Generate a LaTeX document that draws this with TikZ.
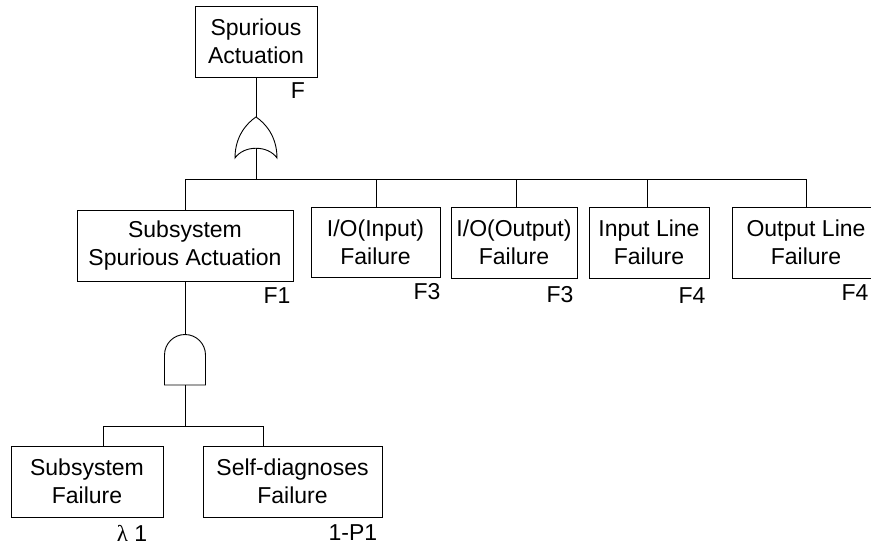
\documentclass[tikz,border=0pt]{standalone}
\usepackage{fontspec}
\setmainfont{Liberation Sans}
\newfontfamily\greekfont{Liberation Serif}
\begin{document}
\begin{tikzpicture}[x=1pt,y=-1pt,
  txt/.style={font=\fontsize{23}{28}\selectfont},
  evt/.style={txt, draw, line width=0.9pt, align=center, inner sep=0pt},
  lbl/.style={txt, inner sep=0pt},
  wire/.style={line width=0.9pt},
  gatestyle/.style={line width=0.9pt}]
\useasboundingbox (0,0) rectangle (871,543);
\clip (0,0) rectangle (871,543);

% top event
\node[evt, minimum width=122pt, minimum height=71pt] (top) at (256,41.5) {Spurious\\Actuation};
\node[lbl] (topF) at (298,91) {F};

% OR gate
\coordinate (orin) at (256,117);
\coordinate (orout) at (256,148);
\draw[gatestyle] (235,158) .. controls (235,136) and (247,123) .. (orin)
  .. controls (265,123) and (277,136) .. (277,158)
  .. controls (268,145) and (244,145) .. cycle;
\draw[wire] (top.south) -- (orin);

% first level events
\node[evt, minimum width=216pt, minimum height=71pt] (f1) at (185,245.5) {Subsystem\\Spurious Actuation};
\node[evt, minimum width=129pt, minimum height=70pt] (ioin) at (375.5,242) {I/O(Input)\\Failure};
\node[evt, minimum width=126pt, minimum height=71pt] (ioout) at (514,242.5) {I/O(Output)\\Failure};
\node[evt, minimum width=120pt, minimum height=71pt] (inl) at (649,242.5) {Input Line\\Failure};
\node[evt, minimum width=148pt, minimum height=71pt] (outl) at (806,242.5) {Output Line\\Failure};

\node[lbl] (f1l) at (277,296) {F1};
\node[lbl] (ioinl) at (427,292) {F3};
\node[lbl] (ioutl) at (560,295) {F3};
\node[lbl] (inll) at (692,296) {F4};
\node[lbl] (outll) at (855,293) {F4};

% OR gate fan-out
\coordinate (bus) at (256,179);
\draw[wire] (orout) -- (bus);
\draw[wire] (f1.north) -- (f1.north |- bus) -- (outl.north |- bus) -- (outl.north);
\draw[wire] ([xshift=0.5pt]ioin.north) -- ([xshift=0.5pt]ioin.north |- bus);
\draw[wire] ([xshift=2pt]ioout.north) -- ([xshift=2pt]ioout.north |- bus);
\draw[wire] ([xshift=-2pt]inl.north) -- ([xshift=-2pt]inl.north |- bus);

% AND gate
\coordinate (andtop) at (185,334.5);
\coordinate (andbot) at (185,385);
\draw[gatestyle] (164.5,385) -- (164.5,355) arc[start angle=180, end angle=0, radius=20.5pt] -- (205.5,385) -- cycle;
\draw[wire] (f1.south) -- (andtop);

% basic events
\node[evt, minimum width=152pt, minimum height=71pt] (sf) at (87,481.5) {Subsystem\\Failure};
\node[evt, minimum width=179pt, minimum height=71pt] (sd) at (292.5,481.5) {Self-diagnoses\\Failure};
\node[lbl] (sfl) at (132,533) {{\greekfont λ} 1};
\node[lbl] (sdl) at (353,533) {1-P1};

\coordinate (bus2) at (185,426);
\draw[wire] (andbot) -- (bus2);
\draw[wire] ([xshift=16pt]sf.north) -- ([xshift=16pt]sf.north |- bus2)
  -- ([xshift=-29.5pt]sd.north |- bus2) -- ([xshift=-29.5pt]sd.north);
\end{tikzpicture}
\end{document}
